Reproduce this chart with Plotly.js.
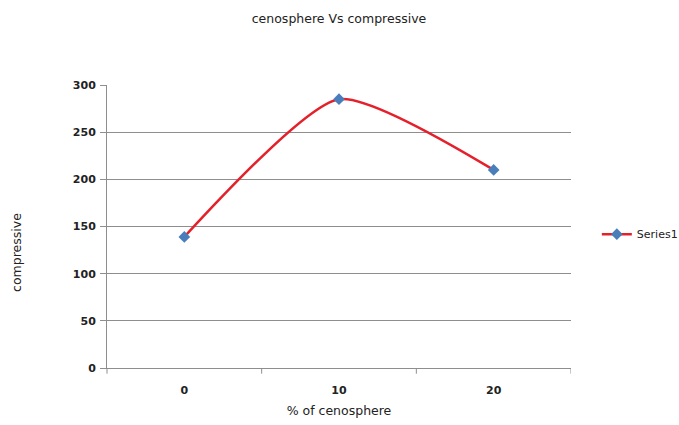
<!DOCTYPE html>
<html>
<head>
<meta charset="utf-8">
<script src="https://cdn.plot.ly/plotly-3.0.1.min.js"></script>
<style>
  html, body { margin: 0; padding: 0; background: #ffffff; }
  #chart { width: 679px; height: 425px; }
</style>
</head>
<body>
<div id="chart"></div>
<script>
// % of cenosphere (category labels) and compressive strength values
const cenosphere = ['0', '10', '20'];
const compressive = [139, 285, 210];
const yTicks = [0, 50, 100, 150, 200, 250, 300];
const seriesName = 'Series1';

const textFont = { family: '"DejaVu Sans", sans-serif', color: '#222222' };
const gridColor = '#8e8e8e';

const trace = {
  x: [0, 1, 2],
  y: compressive,
  name: seriesName,
  type: 'scatter',
  mode: 'lines+markers',
  line: { color: '#e4212b', width: 2.5, shape: 'spline', smoothing: 0.6 },
  marker: { symbol: 'diamond', size: 9, color: '#4a7ebb' },
  cliponaxis: false
};

const layout = {
  width: 679,
  height: 425,
  paper_bgcolor: '#ffffff',
  plot_bgcolor: '#ffffff',
  margin: { l: 107, r: 108, t: 85, b: 57 },
  title: {
    text: 'cenosphere Vs compressive',
    x: 0.5, xref: 'paper', xanchor: 'center',
    y: 1, yref: 'container', yanchor: 'top', pad: { t: 14 },
    font: Object.assign({}, textFont, { size: 12.5 })
  },
  xaxis: {
    range: [-0.5, 2.5],
    tickmode: 'array',
    tickvals: [0, 1, 2],
    ticktext: cenosphere,
    showgrid: false,
    zeroline: false,
    showline: true,
    linecolor: gridColor,
    linewidth: 1,
    ticks: '',
    tickfont: Object.assign({}, textFont, { size: 11, weight: 'bold' }),
    ticklabelstandoff: 12,
    title: {
      text: '% of cenosphere',
      font: Object.assign({}, textFont, { size: 12.5 }),
      standoff: 10
    },
    fixedrange: true
  },
  yaxis: {
    range: [0, 300],
    tickmode: 'array',
    tickvals: yTicks,
    ticktext: yTicks.map(String),
    showgrid: true,
    gridcolor: gridColor,
    gridwidth: 1,
    zeroline: false,
    showline: true,
    linecolor: gridColor,
    linewidth: 1,
    ticks: 'outside',
    ticklen: 6,
    tickcolor: gridColor,
    tickfont: Object.assign({}, textFont, { size: 11, weight: 'bold' }),
    ticklabelstandoff: 2,
    fixedrange: true
  },
  annotations: [{
    // y-axis title, placed a little below the plot's vertical centre
    text: 'compressive',
    xref: 'paper', yref: 'paper',
    x: -0.194, y: 0.41,
    xanchor: 'center', yanchor: 'middle',
    textangle: -90,
    showarrow: false,
    font: Object.assign({}, textFont, { size: 12.5 })
  }],
  showlegend: true,
  legend: {
    xref: 'container', yref: 'container',
    x: 0.879, xanchor: 'left',
    y: 0.449, yanchor: 'middle',
    itemwidth: 30,
    bgcolor: 'rgba(0,0,0,0)',
    font: Object.assign({}, textFont, { size: 11 })
  },
  shapes: [0.5, 1.5, 2.5].map(function (b) {
    // category boundary tick marks below the x axis
    return {
      type: 'line', xref: 'x', yref: 'paper',
      x0: b, x1: b, y0: 0, y1: -0.02,
      line: { color: gridColor, width: 1 }
    };
  }).concat([{
    type: 'line', xref: 'paper', yref: 'paper',
    x0: 0, x1: 0, y0: 0, y1: -0.02,
    line: { color: gridColor, width: 1 }
  }])
};

Plotly.newPlot('chart', [trace], layout, { displayModeBar: false, staticPlot: true });
</script>
</body>
</html>
